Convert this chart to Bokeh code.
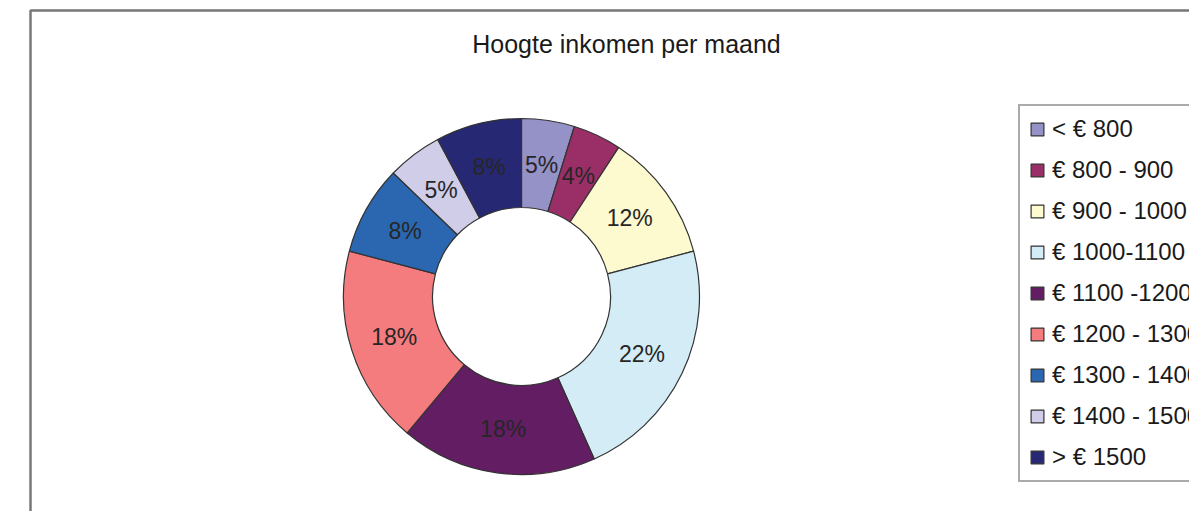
import math
from bokeh.plotting import figure
from bokeh.models import Range1d, Legend, LegendItem, ColumnDataSource, Label
from bokeh.embed import file_html
from bokeh.resources import INLINE

categories = ["< € 800", "€ 800 - 900", "€ 900 - 1000", "€ 1000-1100", "€ 1100 -1200",
              "€ 1200 - 1300", "€ 1300 - 1400", "€ 1400 - 1500", "> € 1500"]
shares = [4.8, 4.4, 11.7, 22.4, 17.8, 18.0, 8.1, 5.0, 7.8]
colors = ["#9592C8", "#9A2F68", "#FDFACF", "#D3ECF5", "#631D63",
          "#F47C7E", "#2B67B1", "#D0CDE9", "#272873"]
title_text = "Hoogte inkomen per maand"

W, H = 1189, 511
FONT = "Liberation Sans"

def Y(page_y):
    # picture pixel row -> data y (bottom-up)
    return H - page_y

p = figure(width=W, height=H, output_backend="svg", toolbar_location=None,
           x_range=Range1d(0, W), y_range=Range1d(0, H),
           min_border=0)
p.xaxis.visible = False
p.yaxis.visible = False
p.grid.visible = False
p.outline_line_color = None
p.background_fill_color = "white"
p.border_fill_color = "white"

# outer chart frame
p.quad(left=[30], right=[1400], top=[Y(10)], bottom=[-200],
       fill_color=None, line_color="#777777", line_width=2.5)

cx, cy = 521, Y(296)
r_in, r_out = 89, 178
total = sum(shares)
starts, ends, mids = [], [], []
cum = 0.0
for v in shares:
    a0 = math.pi / 2 - 2 * math.pi * cum / total
    cum += v
    a1 = math.pi / 2 - 2 * math.pi * cum / total
    starts.append(a0)
    ends.append(a1)
    mids.append((a0 + a1) / 2)

src = ColumnDataSource(dict(start=starts, end=ends, color=colors, label=categories))
wedges = p.annular_wedge(x=cx, y=cy, inner_radius=r_in, outer_radius=r_out,
                         start_angle="start", end_angle="end", direction="clock",
                         fill_color="color", line_color="#333333", line_width=1.2,
                         source=src)

r_lab = (r_in + r_out) / 2
lx = [cx + r_lab * math.cos(m) for m in mids]
ly = [cy + r_lab * math.sin(m) for m in mids]
labels = [f"{round(v)}%" for v in shares]
p.text(x=lx, y=ly, text=labels, text_align="center", text_baseline="middle",
       text_font={"value": FONT}, text_font_size="23px", text_color="#262626")

p.add_layout(Label(x=626, y=Y(43), text=title_text, text_align="center",
                   text_baseline="middle", text_font=FONT, text_font_size="25px",
                   text_color="#1a1a1a"))

items = [LegendItem(label=c, renderers=[wedges], index=i) for i, c in enumerate(categories)]
legend = Legend(items=items, location=(1018, Y(482)), orientation="vertical",
                glyph_width=16, glyph_height=16, label_height=20, spacing=13,
                padding=9, margin=0, label_standoff=7,
                label_text_font=FONT, label_text_font_size="24px",
                label_text_color="#1a1a1a",
                border_line_color="#555555", border_line_width=2,
                background_fill_color="white", background_fill_alpha=1.0)
p.add_layout(legend)

open("out.html", "w").write(file_html(p, INLINE))
